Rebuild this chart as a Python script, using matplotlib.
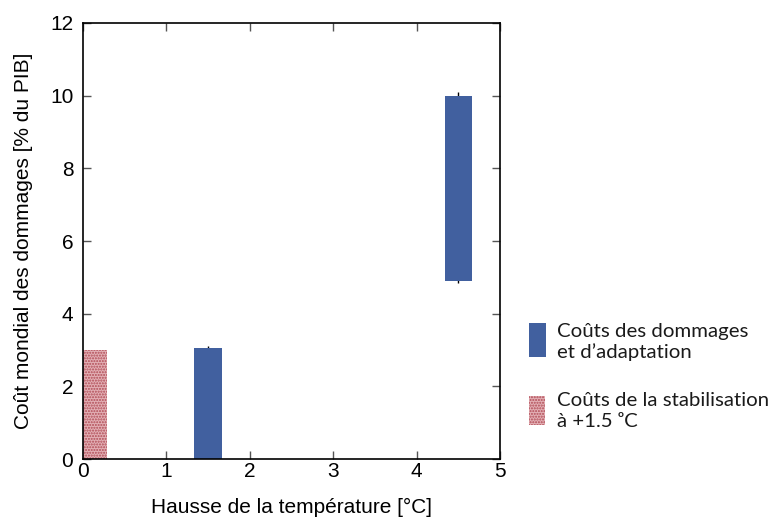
import matplotlib
matplotlib.use("Agg")
import matplotlib.pyplot as plt
from matplotlib.patches import Rectangle

# Damage + adaptation cost ranges (% of GDP) by warming level
damage_temp = [1.5, 4.5]
damage_low = [0.0, 4.9]
damage_high = [3.05, 10.0]
damage_err_low = [0.0, 4.85]
damage_err_high = [3.12, 10.1]
damage_width = 0.33

# Stabilisation cost at +1.5 °C
stab_left = 0.0
stab_width = 0.29
stab_value = 3.0

x_ticks = [0, 1, 2, 3, 4, 5]
y_ticks = [0, 2, 4, 6, 8, 10, 12]

blue = "#41609f"
pink_face = "#e3b0b5"
pink_hatch = "#b04a55"

plt.rcParams["font.family"] = ["Liberation Sans", "DejaVu Sans"]
plt.rcParams["hatch.linewidth"] = 1.0

fig = plt.figure(figsize=(7.73, 5.25), dpi=100)
ax = fig.add_axes([0.1074, 0.1257, 0.5394, 0.8305])

ax.bar([stab_left], [stab_value], width=stab_width, align="edge",
       facecolor=pink_face, edgecolor=pink_hatch, hatch="......", linewidth=0,
       zorder=2)
ax.bar(damage_temp, [h - l for h, l in zip(damage_high, damage_low)],
       bottom=damage_low, width=damage_width, color=blue, linewidth=0, zorder=2)
ax.vlines(damage_temp, damage_err_low, damage_err_high, color="black",
          linewidth=1.0, zorder=1)

ax.set_xlim(0, 5)
ax.set_ylim(0, 12)
ax.set_xticks(x_ticks)
ax.set_yticks(y_ticks)
ax.tick_params(direction="in", length=6, width=1.0, color="#555555",
               top=True, right=True, labelsize=15)
ax.tick_params(axis="x", pad=2)
ax.tick_params(axis="y", pad=7)
for s in ax.spines.values():
    s.set_linewidth(1.2)
    s.set_zorder(3)
ax.set_xlabel("Hausse de la température [°C]", fontsize=15, labelpad=12)
ax.set_ylabel("Coût mondial des dommages [% du PIB]", fontsize=15, labelpad=12)

# legend drawn in figure coordinates
W, H = 773, 525
def frect(x0, y0, x1, y1, **kw):
    fig.add_artist(Rectangle((x0 / W, 1 - y1 / H), (x1 - x0) / W, (y1 - y0) / H,
                             transform=fig.transFigure, linewidth=0, **kw))

frect(529, 323, 546, 357, facecolor=blue)
frect(529, 396, 545, 425, facecolor=pink_face, edgecolor=pink_hatch, hatch="......")

lfont = dict(fontsize=14.7, family=["Lato", "DejaVu Sans"], color="#1a1a1a",
             va="center", ha="left", linespacing=1.25)
fig.text(557 / W, 1 - 342 / H, "Coûts des dommages\net d’adaptation", **lfont)
fig.text(557 / W, 1 - 411 / H, "Coûts de la stabilisation\nà +1.5 ᵒC", **lfont)

fig.savefig("out.png", dpi=100)
